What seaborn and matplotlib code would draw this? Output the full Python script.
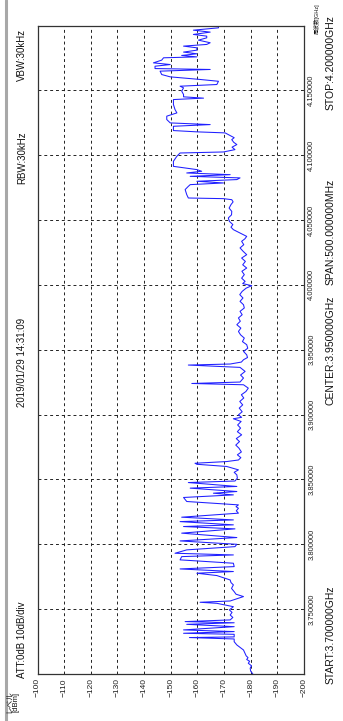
import numpy as np
import pandas as pd
import matplotlib
matplotlib.use("Agg")
import matplotlib.pyplot as plt
import seaborn as sns
from matplotlib.lines import Line2D

# trace, split in three bands: frequency [GHz], level [dBm]
freq_a = [
    3.7000, 3.7022, 3.7044, 3.7063, 3.7083, 3.7098, 3.7112, 3.7126, 3.7140, 3.7162,
    3.7185, 3.7205, 3.7224, 3.7249, 3.7270, 3.7281, 3.7286, 3.7306, 3.7314, 3.7327,
    3.7340, 3.7365, 3.7383, 3.7395, 3.7404, 3.7417, 3.7436, 3.7455, 3.7475, 3.7494,
    3.7519, 3.7545, 3.7553, 3.7563, 3.7597, 3.7615, 3.7635, 3.7660, 3.7687, 3.7705,
    3.7725, 3.7759, 3.7777, 3.7790, 3.7810, 3.7828, 3.7854, 3.7880, 3.7905, 3.7918,
    3.7931, 3.7957, 3.7982, 3.8000, 3.8026, 3.8052, 3.8086, 3.8119, 3.8137, 3.8150,
    3.8175, 3.8188, 3.8209, 3.8240, 3.8258, 3.8278, 3.8290, 3.8304, 3.8330, 3.8361,
    3.8381, 3.8394, 3.8407, 3.8433, 3.8446, 3.8476, 3.8488, 3.8510, 3.8535, 3.8555,
    3.8574, 3.8600, 3.8617, 3.8625, 3.8638,
]
level_a = [
    -180.8, -180.0, -179.8, -180.3, -179.1, -179.6, -178.5, -179.0, -178.3, -177.8,
    -177.3, -176.0, -174.8, -173.8, -173.8, -157.0, -173.8, -173.8, -154.8, -173.8,
    -154.8, -173.8, -156.0, -173.8, -155.4, -172.3, -173.3, -172.3, -173.0, -172.0,
    -173.5, -167.3, -161.0, -172.3, -177.3, -174.5, -173.8, -172.8, -173.5, -172.6,
    -172.3, -167.3, -159.8, -173.5, -153.5, -173.8, -173.5, -153.5, -154.1, -173.5,
    -151.6, -156.0, -174.1, -174.8, -153.5, -174.8, -154.1, -174.1, -154.8, -173.5,
    -153.5, -173.5, -154.1, -175.4, -174.6, -175.4, -174.5, -175.4, -156.0, -154.8,
    -173.5, -166.0, -174.8, -157.3, -174.8, -156.6, -174.1, -175.0, -174.8, -173.8,
    -175.4, -171.0, -159.8, -159.1, -171.0,
]

freq_b = [
    3.8650, 3.8668, 3.8690, 3.8712, 3.8741, 3.8765, 3.8792, 3.8815, 3.8844, 3.8868,
    3.8896, 3.8920, 3.8947, 3.8968, 3.8979, 3.8998, 3.9022, 3.9050, 3.9075, 3.9101,
    3.9128, 3.9153, 3.9178, 3.9204, 3.9230, 3.9240, 3.9251, 3.9282, 3.9305, 3.9333,
    3.9364, 3.9382, 3.9390, 3.9405, 3.9423, 3.9440, 3.9461, 3.9487, 3.9512, 3.9539,
    3.9563, 3.9590, 3.9615, 3.9641, 3.9667, 3.9693, 3.9720, 3.9745, 3.9770, 3.9796,
    3.9822, 3.9847, 3.9873, 3.9899, 3.9925, 3.9950, 3.9975, 3.9994, 4.0010, 4.0027,
    4.0052, 4.0079, 4.0105, 4.0130, 4.0155, 4.0181, 4.0207, 4.0233, 4.0258, 4.0285,
    4.0310, 4.0336, 4.0355, 4.0374, 4.0400, 4.0426, 4.0445, 4.0465, 4.0490, 4.0516,
    4.0540, 4.0567, 4.0592, 4.0619, 4.0640, 4.0657, 4.0665,
]
level_b = [
    -175.4, -176.3, -175.0, -176.5, -175.6, -174.4, -175.8, -174.6, -176.6, -175.0,
    -176.2, -175.1, -176.4, -173.5, -176.6, -175.4, -176.8, -175.7, -177.0, -175.9,
    -177.4, -176.5, -178.2, -179.1, -177.3, -157.9, -176.0, -177.3, -176.2, -177.9,
    -176.0, -156.6, -172.3, -176.5, -177.3, -178.8, -178.5, -177.3, -178.9, -178.5,
    -176.9, -177.6, -176.2, -175.4, -176.3, -174.8, -176.1, -175.4, -176.8, -176.0,
    -177.6, -177.3, -176.0, -177.1, -175.9, -176.8, -178.3, -180.4, -177.0, -177.9,
    -176.6, -177.6, -176.7, -178.5, -177.0, -178.0, -176.6, -178.5, -177.2, -176.0,
    -177.4, -176.6, -177.8, -178.5, -176.0, -173.5, -172.6, -173.3, -172.0, -171.6,
    -172.8, -172.9, -171.9, -172.6, -173.4, -172.9, -169.8,
]

freq_c = [
    4.0670, 4.0696, 4.0735, 4.0760, 4.0773, 4.0786, 4.0799, 4.0812, 4.0825, 4.0837,
    4.0850, 4.0863, 4.0876, 4.0889, 4.0914, 4.0953, 4.0992, 4.1017, 4.1025, 4.1043,
    4.1062, 4.1082, 4.1100, 4.1120, 4.1135, 4.1151, 4.1172, 4.1180, 4.1190, 4.1223,
    4.1236, 4.1249, 4.1275, 4.1301, 4.1326, 4.1352, 4.1391, 4.1429, 4.1440, 4.1450,
    4.1468, 4.1494, 4.1519, 4.1532, 4.1545, 4.1570, 4.1584, 4.1604, 4.1622, 4.1648,
    4.1661, 4.1668, 4.1686, 4.1699, 4.1712, 4.1733, 4.1751, 4.1758, 4.1769, 4.1782,
    4.1795, 4.1810, 4.1828, 4.1841, 4.1854, 4.1867, 4.1887, 4.1905, 4.1918, 4.1931,
    4.1949, 4.1964, 4.1982, 4.1995, 4.2000,
]
level_c = [
    -156.6, -156.0, -155.4, -156.6, -157.3, -169.8, -159.8, -174.8, -176.0, -157.3,
    -172.3, -156.0, -161.6, -159.8, -151.0, -151.0, -152.3, -153.5, -169.8, -174.1,
    -173.0, -174.8, -173.6, -172.9, -173.8, -172.3, -170.4, -159.8, -151.0, -151.0,
    -164.8, -149.8, -148.5, -148.5, -152.3, -151.6, -151.0, -151.0, -162.3, -154.8,
    -154.8, -154.1, -154.8, -153.5, -167.3, -167.9, -161.0, -149.8, -146.6, -146.0,
    -164.8, -144.1, -144.1, -149.8, -143.5, -146.6, -147.3, -159.8, -154.1, -159.8,
    -154.8, -159.8, -159.8, -154.8, -163.5, -164.8, -160.4, -163.5, -163.5, -158.5,
    -164.8, -158.5, -167.9, -167.9, -153.5,
]

level_ticks = [-100, -110, -120, -130, -140, -150, -160, -170, -180, -190, -200]
freq_ticks = [3.70, 3.75, 3.80, 3.85, 3.90, 3.95, 4.00, 4.05, 4.10, 4.15, 4.20]
freq_labels = ["", "3.750000", "3.800000", "3.850000", "3.900000", "3.950000",
               "4.000000", "4.050000", "4.100000", "4.150000", ""]

sns.set_style("white")
plt.rcParams["font.family"] = ["Liberation Sans", "Noto Sans CJK JP", "DejaVu Sans"]

df = pd.DataFrame({"freq": freq_a + freq_b + freq_c,
                   "level": level_a + level_b + level_c})

W, H = 343, 721
fig = plt.figure(figsize=(W / 100, H / 100), dpi=100)
ax = fig.add_axes([37.5 / W, 1 - 674 / H, (304 - 37.5) / W, (674 - 25.5) / H])

sns.lineplot(data=df, x="level", y="freq", sort=False, estimator=None,
             orient="y", color="#1f1fff", lw=0.75, ax=ax)

ax.set_xlim(-100, -200)
ax.set_ylim(3.70, 4.20)
ax.set_xticks(level_ticks)
ax.set_xticklabels([f"\u2212{abs(v)}" for v in level_ticks], rotation=90, fontsize=6)
ax.set_yticks(freq_ticks)
ax.yaxis.tick_right()
ax.set_yticklabels(freq_labels, rotation=90, va="center", fontsize=5.5)
ax.tick_params(length=0, pad=3, colors="#222222")
ax.set_xlabel("")
ax.set_ylabel("")
ax.grid(True, ls=(0, (3, 3)), color="#222222", lw=0.7)
for s in ax.spines.values():
    s.set_color("#333333")
    s.set_linewidth(0.9)

# outer frame line of the screen capture
fig.add_artist(Line2D([6 / W, 6 / W], [0, 1], color="#a8a8a8", lw=2.2))

def put(x, y, s, size, **kw):
    fig.text(x / W, 1 - y / H, s, rotation=90, ha="center", va="center",
             fontsize=size, color="#111111", **kw)

put(22, 55, "VBW:30kHz", 7)
put(22, 158, "RBW:30kHz", 7)
put(22, 362, "2019/01/29 14:31:09", 7)
put(22, 640, "ATT:0dB 10dB/div", 7)
put(13, 702, "レベル\n[dBm]", 5.5, linespacing=1.0)
put(317, 19, "周波数[GHz]", 4.0)
put(331, 63, "STOP:4.200000GHz", 7.5)
put(331, 232, "SPAN:500.000000MHz", 7.5)
put(331, 350, "CENTER:3.950000GHz", 7.5)
put(331, 635, "START:3.700000GHz", 7.5)

fig.savefig("out.png", dpi=100, facecolor="white")
